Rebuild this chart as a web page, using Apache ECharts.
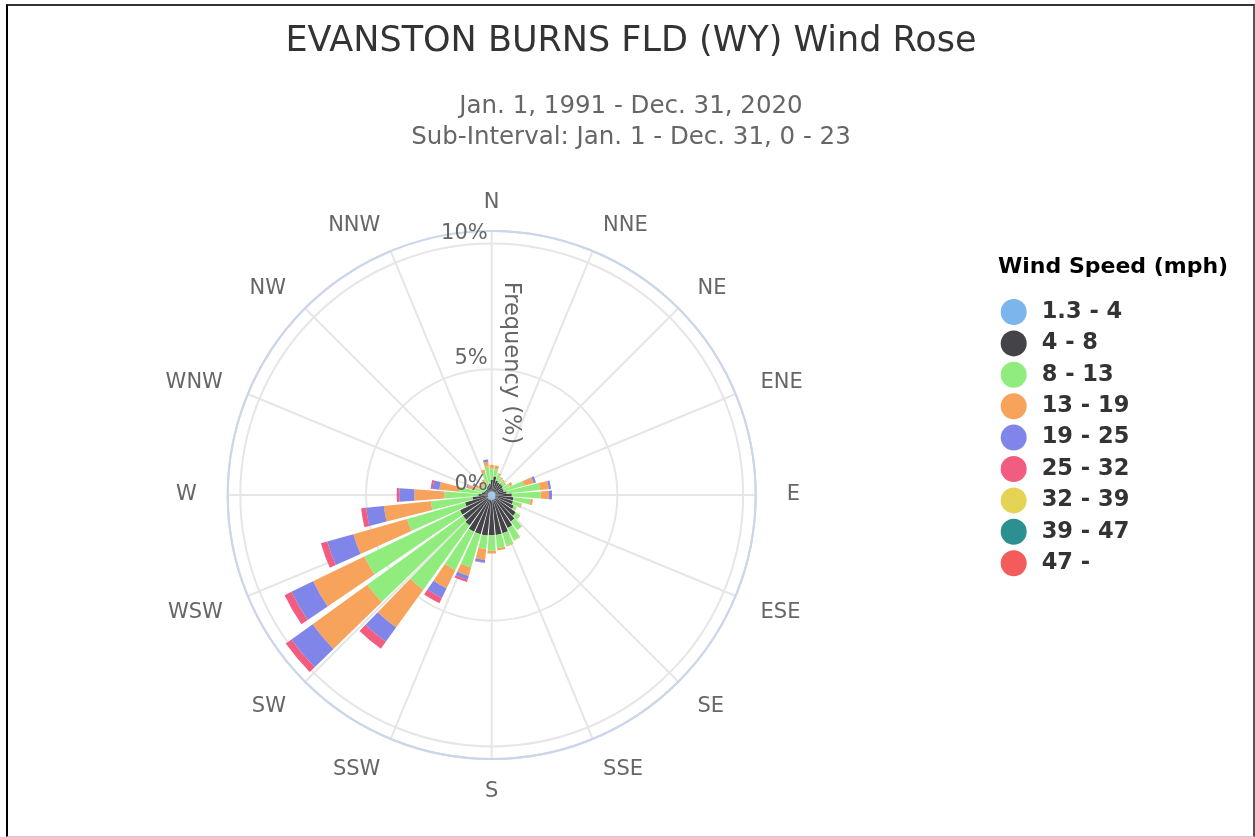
<!DOCTYPE html>
<html>
<head>
<meta charset="utf-8">
<title>EVANSTON BURNS FLD (WY) Wind Rose</title>
<script src="https://cdn.jsdelivr.net/npm/echarts@6/dist/echarts.min.js"></script>
<style>
    html, body { margin: 0; padding: 0; background: #fff; }
    #main { position: absolute; left: 0; top: 0; width: 1255px; height: 837px; }
    #frame {
        position: absolute; left: 6px; top: 4px; width: 1245px; height: 830px;
        border-left: 2px solid #000; border-top: 2px solid #333;
        border-right: 2px solid #555; border-bottom: 1px solid #ccc;
        pointer-events: none;
    }
</style>
</head>
<body>
<div id="main"></div>
<div id="frame"></div>
<script>
// 36 directions, 10 degree steps, starting at north
var directions = ['0°', '10°', '20°', '30°', '40°', '50°', '60°', '70°', '80°',
    '90°', '100°', '110°', '120°', '130°', '140°', '150°', '160°', '170°',
    '180°', '190°', '200°', '210°', '220°', '230°', '240°', '250°', '260°',
    '270°', '280°', '290°', '300°', '310°', '320°', '330°', '340°', '350°'];

var compassLabels = ['N', 'NNE', 'NE', 'ENE', 'E', 'ESE', 'SE', 'SSE',
    'S', 'SSW', 'SW', 'WSW', 'W', 'WNW', 'NW', 'NNW'];

var speedBins = ['1.3 - 4', '4 - 8', '8 - 13', '13 - 19', '19 - 25',
    '25 - 32', '32 - 39', '39 - 47', '47 -'];

var radiusTicks = [0, 5, 10];

// frequency (%) per direction for each speed bin
var speed1to4 = [0.15, 0.15, 0.15, 0.15, 0.15, 0.15, 0.15, 0.15, 0.15,
    0.15, 0.15, 0.15, 0.15, 0.20, 0.20, 0.20, 0.20, 0.20,
    0.25, 0.20, 0.20, 0.20, 0.20, 0.20, 0.20, 0.15, 0.15,
    0.15, 0.15, 0.15, 0.15, 0.15, 0.15, 0.15, 0.15, 0.15];
var speed4to8 = [0.45, 0.60, 0.45, 0.40, 0.40, 0.40, 0.35, 0.35, 0.45,
    0.65, 0.72, 0.73, 0.83, 0.98, 1.10, 1.26, 1.38, 1.40,
    1.35, 1.42, 1.42, 1.42, 1.30, 1.21, 1.20, 0.95, 0.62,
    0.38, 0.25, 0.20, 0.15, 0.15, 0.15, 0.20, 0.25, 0.31];
var speed8to13 = [0.45, 0.30, 0.25, 0.20, 0.15, 0.10, 0.30, 0.84, 1.33,
    1.15, 0.68, 0.32, 0.12, 0.22, 0.42, 0.54, 0.52, 0.52,
    0.62, 0.54, 1.38, 1.70, 3.15, 4.69, 4.23, 2.40, 1.66,
    1.35, 0.90, 0.35, 0.25, 0.20, 0.20, 0.25, 0.50, 0.69];
var speed13to19 = [0.15, 0.13, 0.05, 0.05, 0.05, 0.06, 0.12, 0.39, 0.35,
    0.33, 0.10, 0.05, 0.02, 0.01, 0.01, 0.02, 0.03, 0.10,
    0.11, 0.44, 0.35, 0.80, 1.85, 2.68, 2.26, 2.22, 1.88,
    1.20, 0.79, 0.30, 0.20, 0.10, 0.10, 0.10, 0.15, 0.18];
var speed19to25 = [0, 0, 0, 0, 0, 0, 0, 0.10, 0.09,
    0.12, 0, 0, 0, 0, 0, 0, 0, 0,
    0, 0.10, 0.15, 0.43, 0.70, 1.04, 0.96, 1.08, 0.71,
    0.60, 0.27, 0.05, 0.10, 0, 0, 0, 0, 0.09];
var speed25to32 = [0, 0, 0, 0, 0, 0, 0, 0, 0,
    0, 0, 0, 0, 0, 0, 0, 0, 0,
    0, 0.02, 0.10, 0.23, 0.34, 0.28, 0.30, 0.26, 0.20,
    0.10, 0.08, 0, 0, 0, 0, 0, 0, 0];
var speed32to39 = [0, 0, 0, 0, 0, 0, 0, 0, 0, 0, 0, 0, 0, 0, 0, 0, 0, 0,
    0, 0, 0, 0, 0, 0, 0, 0, 0, 0, 0, 0, 0, 0, 0, 0, 0, 0];
var speed39to47 = [0, 0, 0, 0, 0, 0, 0, 0, 0, 0, 0, 0, 0, 0, 0, 0, 0, 0,
    0, 0, 0, 0, 0, 0, 0, 0, 0, 0, 0, 0, 0, 0, 0, 0, 0, 0];
var speed47up = [0, 0, 0, 0, 0, 0, 0, 0, 0, 0, 0, 0, 0, 0, 0, 0, 0, 0,
    0, 0, 0, 0, 0, 0, 0, 0, 0, 0, 0, 0, 0, 0, 0, 0, 0, 0];

var speedData = [speed1to4, speed4to8, speed8to13, speed13to19, speed19to25,
    speed25to32, speed32to39, speed39to47, speed47up];

var colors = ['#7cb5ec', '#434348', '#90ed7d', '#f7a35c', '#8085e9',
    '#f15c80', '#e4d354', '#2b908f', '#f45b5b'];

var myChart = echarts.init(document.getElementById('main'));

var center = [491.7, 495];
var radius = 264;

var series = speedBins.map(function (name, i) {
    return {
        name: name,
        type: 'bar',
        coordinateSystem: 'polar',
        polarIndex: 0,
        stack: 'wind',
        barCategoryGap: '16%',
        data: speedData[i],
        itemStyle: { color: colors[i] }
    };
});

// nudge the compass labels a little so they sit like the original
var compassData = compassLabels.map(function (name) {
    if (name === 'E') return { value: name, textStyle: { padding: [0, 0, 0, 4] } };
    if (name === 'W') return { value: name, textStyle: { padding: [0, 4, 0, 0] } };
    if (['NNW', 'NW', 'WNW', 'N', 'NNE', 'NE', 'ENE'].indexOf(name) >= 0) {
        return { value: name, textStyle: { lineHeight: 2 } };
    }
    return name;
});

myChart.setOption({
    animation: false,
    color: colors,
    textStyle: { fontFamily: 'DejaVu Sans' },
    title: [
        {
            text: 'EVANSTON BURNS FLD (WY) Wind Rose',
            subtext: 'Jan. 1, 1991 - Dec. 31, 2020\nSub-Interval: Jan. 1 - Dec. 31, 0 - 23',
            left: 631,
            textAlign: 'center',
            top: 16,
            padding: [5, 0, 5, 0],
            itemGap: 28,
            textStyle: { fontSize: 35, fontWeight: 'normal', color: '#333', lineHeight: 42 },
            subtextStyle: { fontSize: 24.5, color: '#666', lineHeight: 31 }
        },
        {
            text: 'Wind Speed (mph)',
            left: 998,
            top: 254,
            padding: 0,
            textStyle: { fontSize: 22, fontWeight: 'bold', color: '#000', lineHeight: 26 }
        }
    ],
    legend: {
        orient: 'vertical',
        left: 1000.7,
        top: 299,
        padding: 0,
        itemWidth: 46,
        itemHeight: 26,
        itemGap: 5.4,
        icon: 'circle',
        data: speedBins,
        textStyle: { fontSize: 22.5, fontWeight: 'bold', color: '#333', lineHeight: 26 }
    },
    polar: [
        { center: center, radius: radius },
        { center: center, radius: radius }
    ],
    angleAxis: [
        {
            polarIndex: 0,
            type: 'category',
            data: directions,
            startAngle: 95,
            clockwise: true,
            axisLine: { show: false },
            axisTick: { show: false },
            axisLabel: { show: false },
            splitLine: { show: false }
        },
        {
            polarIndex: 1,
            type: 'category',
            data: compassData,
            boundaryGap: false,
            startAngle: 90,
            clockwise: true,
            axisLine: { lineStyle: { color: '#ccd6eb', width: 2 } },
            axisTick: { show: false },
            axisLabel: { color: '#666', fontSize: 21, margin: 27, lineHeight: 12 },
            splitLine: { show: true, lineStyle: { color: '#e6e6e6', width: 2 } }
        }
    ],
    radiusAxis: [
        {
            polarIndex: 0,
            type: 'value',
            min: 0,
            max: 10.5,
            interval: 5,
            axisLine: { show: false },
            axisTick: { show: false },
            axisLabel: { show: false },
            splitLine: {
                show: true,
                lineStyle: { color: ['#e6e6e6', '#e6e6e6', '#e6e6e6', '#ccd6eb'], width: 2 }
            }
        },
        {
            polarIndex: 1,
            type: 'value',
            min: 0,
            max: 10.5,
            interval: 5,
            z: 10,
            axisLine: { show: false },
            axisTick: { show: false },
            splitLine: { show: false },
            axisLabel: {
                color: '#666',
                fontSize: 21,
                margin: 4,
                verticalAlign: 'bottom',
                formatter: function (v) {
                    return radiusTicks.indexOf(v) >= 0 ? v + '%' : '';
                }
            },
            name: 'Frequency (%)',
            nameLocation: 'middle',
            nameRotate: -90,
            nameGap: 8,
            nameTextStyle: { color: '#666', fontSize: 22.5 }
        }
    ],
    series: series
});
</script>
</body>
</html>
